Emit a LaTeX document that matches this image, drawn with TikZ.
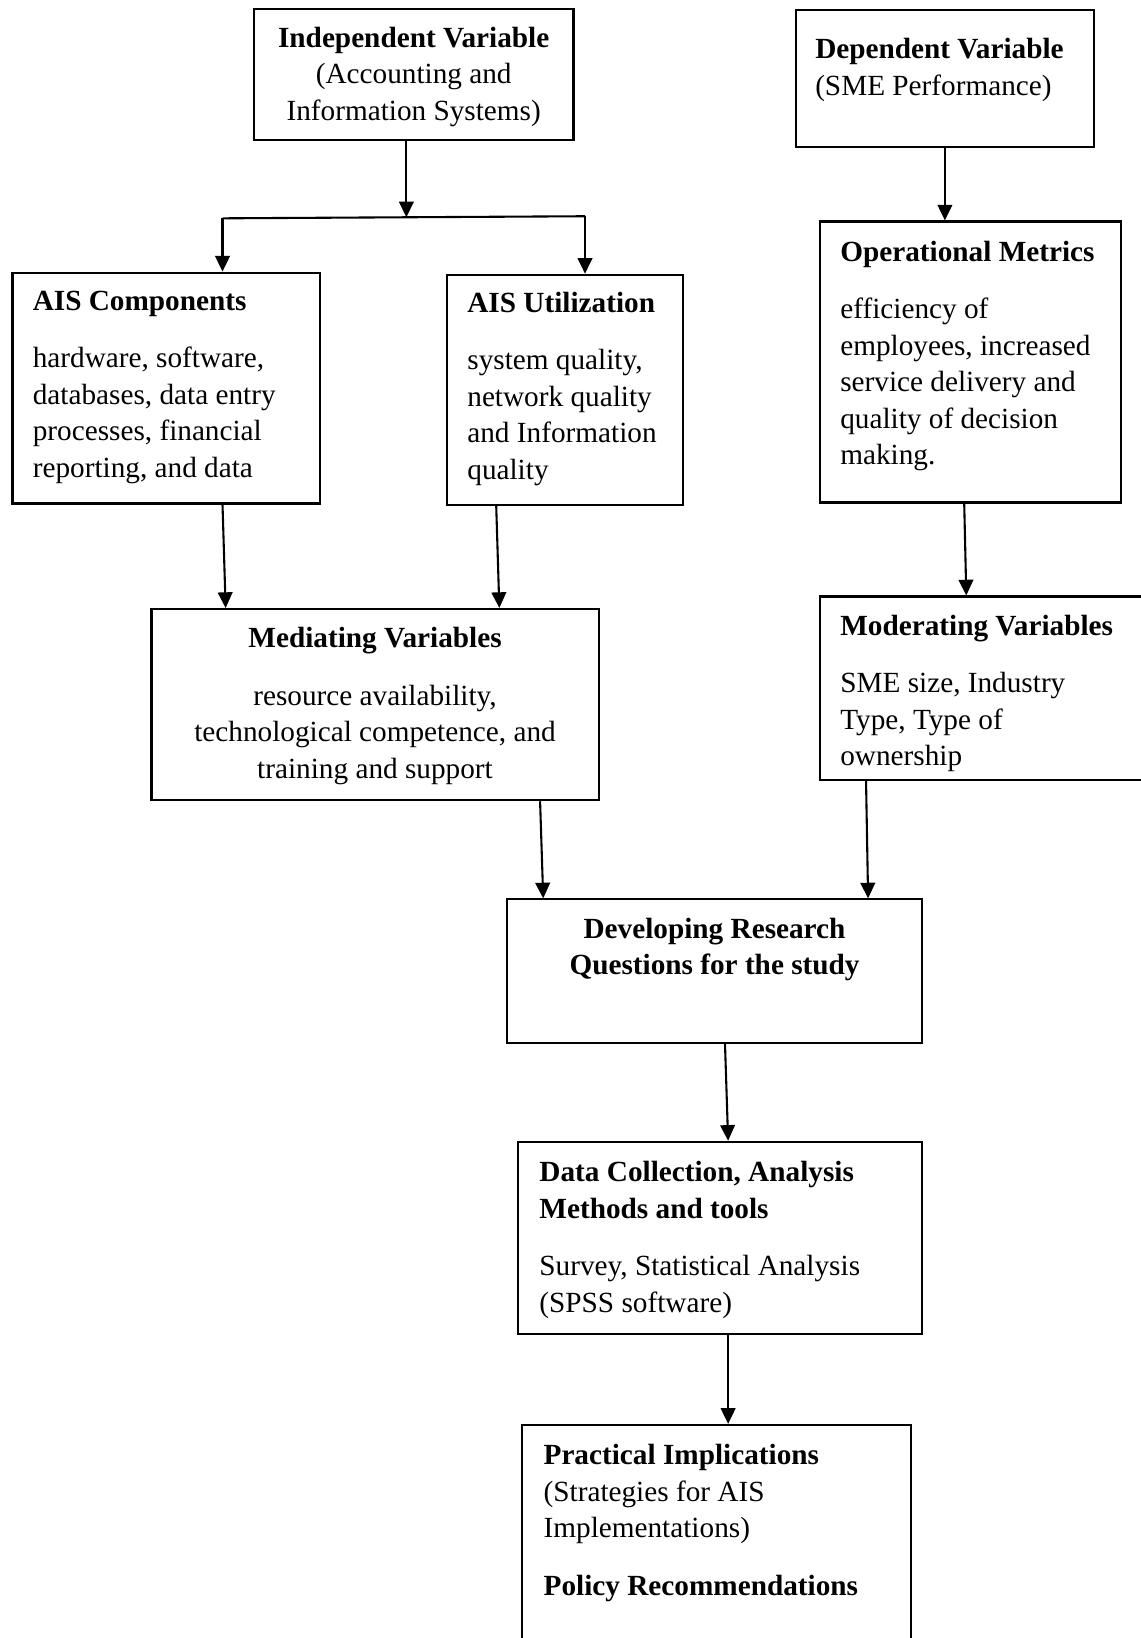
\documentclass[tikz,border=0pt]{standalone}
\usepackage{fontspec}
\setmainfont{Liberation Serif}
\usetikzlibrary{arrows.meta,fit}
\newcommand\lblL[1]{\begin{tabular}[t]{@{}l@{}}#1\end{tabular}}
\newcommand\lblC[1]{\begin{tabular}[t]{@{}c@{}}#1\end{tabular}}
\begin{document}
\begin{tikzpicture}[x=0.5pt,y=-0.5pt,
  box/.style={draw, line width=1pt, inner sep=0pt},
  txt/.style={inner sep=0pt, font=\fontsize{14pt}{17.5pt}\selectfont},
  arr/.style={line width=1pt, -{Triangle[width=7pt,length=7.5pt]}},
  con/.style={line width=1pt}]
\useasboundingbox (0,0) rectangle (1092,1568);
\fill[white] (0,0) rectangle (1092,1568);

% boxes
\node[box, fit={(243,9) (549,134)}] (ind) {};
\node[box, fit={(762,10) (1047,141)}] (dep) {};
\node[box, fit={(12,261) (306,482)}] (comp) {};
\node[box, fit={(428,263) (654,483)}] (util) {};
\node[box, fit={(785,212) (1073,481)}] (ops) {};
\node[box, fit={(145,583) (573,766)}] (med) {};
\node[box, fit={(785,571) (1100,747)}] (mod) {};
\node[box, fit={(485,861) (883,998)}] (dev) {};
\node[box, fit={(496,1093) (883,1277)}] (data) {};
\node[box, fit={(500,1364) (872,1585)}] (prac) {};

% texts
\node[txt, anchor=base] (indT) at (396,45) {\lblC{\textbf{Independent Variable}\\(Accounting and\\Information Systems)}};
\node[txt, anchor=base west] (depT) at (780,56) {\lblL{\textbf{Dependent Variable}\\(SME Performance)}};
\node[txt, anchor=base west] (compT) at (31,297) {\lblL{\textbf{AIS Components}\\[10pt]hardware, software,\\databases, data entry\\processes, financial\\reporting, and data}};
\node[txt, anchor=base west] (utilT) at (447,299) {\lblL{\textbf{AIS Utilization}\\[10pt]system quality,\\network quality\\and Information\\quality}};
\node[txt, anchor=base west] (opsT) at (804,250) {\lblL{\textbf{Operational Metrics}\\[10pt]efficiency of\\employees, increased\\service delivery and\\quality of decision\\making.}};
\node[txt, anchor=base] (medT) at (359,620) {\lblC{\textbf{Mediating Variables}\\[10pt]resource availability,\\technological competence, and\\training and support}};
\node[txt, anchor=base west] (modT) at (804,608) {\lblL{\textbf{Moderating Variables}\\[10pt]SME size, Industry\\Type, Type of\\ownership}};
\node[txt, anchor=base] (devT) at (684,898) {\lblC{\textbf{Developing Research}\\\textbf{Questions for the study}}};
\node[txt, anchor=base west] (dataT) at (516,1131) {\lblL{\textbf{Data Collection, Analysis}\\\textbf{Methods and tools}\\[10pt]Survey, Statistical Analysis\\(SPSS software)}};
\node[txt, anchor=base west] (pracT) at (520,1402) {\lblL{\textbf{Practical Implications}\\(Strategies for AIS\\Implementations)\\[10pt]\textbf{Policy Recommendations}}};

% connectors
\coordinate (jm) at (389,208);
\coordinate (jl) at (213,209);
\coordinate (jr) at (560,207);
\draw[arr] ([xshift=-3.5pt]ind.south) -- (jm);
\draw[con] (jl) -- (jr);
\draw[arr] (jl) -- (comp.north -| jl);
\draw[arr] (jr) -- (util.north -| jr);
\draw[arr] (dep.south) -- (ops.north -| dep.south);
\draw[arr] ([xshift=27pt]comp.south) -- ([xshift=-71.5pt]med.north);
\draw[arr] ([xshift=-33pt]util.south) -- ([xshift=59.5pt]med.north);
\draw[arr] ([xshift=-3pt]ops.south) -- ([xshift=-8.75pt]mod.north);
\draw[arr] ([xshift=79pt]med.south) -- ([xshift=-82pt]dev.north);
\draw[arr] ([xshift=-56.75pt,yshift=1pt]mod.south) -- ([xshift=73.5pt]dev.north);
\draw[arr] ([xshift=5pt]dev.south) -- ([xshift=3.75pt]data.north);
\draw[arr] ([xshift=3.75pt]data.south) -- ([xshift=5.5pt]prac.north);
\end{tikzpicture}
\end{document}
